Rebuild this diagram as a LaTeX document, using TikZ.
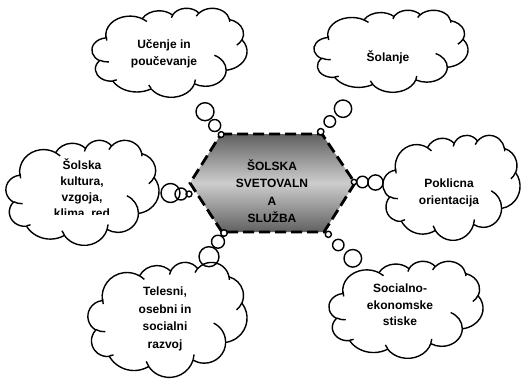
\documentclass[tikz,border=0pt]{standalone}
\usepackage{fontspec}
\setmainfont{Liberation Sans}
\definecolor{hexdark}{RGB}{96,96,96}
\definecolor{hexlight}{RGB}{205,205,205}
\newcommand\cldsetup[4]{\gdef\cldx{#1}\gdef\cldy{#2}\gdef\cldw{#3}\gdef\cldh{#4}}
\newcommand\cpt[2]{({\cldx+(#1)/432*\cldw},{\cldy+(#2)/432*\cldh})}
\newcommand\cldarc[4]{%
  \pgfextra{%
    \pgfmathparse{(#1)/432*\cldw}\xdef\cwr{\pgfmathresult}%
    \pgfmathparse{(#2)/432*\cldh}\xdef\chr{\pgfmathresult}%
    \pgfmathparse{atan2((#1)*sin(#3),(#2)*cos(#3))}\xdef\cta{\pgfmathresult}%
    \pgfmathparse{atan2((#1)*sin(#3+#4),(#2)*cos(#3+#4))}\xdef\ctb{\pgfmathresult}%
    \pgfmathparse{\cta+mod(\ctb-\cta+720,360)}\xdef\ctb{\pgfmathresult}%
  }%
  arc[start angle=\cta, end angle=\ctb, x radius=\cwr, y radius=\chr]%
}
\newcommand\cloudoutline{%
  \cpt{39.00}{143.70}
  \cldarc{67.53}{91.90}{-190.48748}{123.78053}
  \cldarc{53.33}{72.67}{-144.10238}{89.94523}
  \cldarc{43.65}{59.45}{-145.80792}{99.72302}
  \cldarc{48.57}{65.95}{-130.98607}{117.24173}
  \cldarc{53.33}{72.73}{-78.70888}{109.02692}
  \cldarc{67.75}{92.20}{-46.26725}{130.269}
  \cldarc{57.85}{78.67}{0.62502}{114.03333}
  \cldarc{67.52}{92.15}{22.4516}{115.17255}
  \cldarc{77.20}{105.43}{66.24263}{75.71102}
  \cldarc{43.60}{59.18}{-274.94208}{146.73557}
  \cldarc{43.45}{59.45}{-246.8285}{152.51885}
  -- cycle}
\newcommand\cloudmarks{%
  \cpt{46.93}{261.77} \cldarc{43.45}{59.45}{86.742}{26.4295}
  \cpt{69.28}{348.99} \cldarc{43.60}{59.18}{73.61047}{11.44747}
  \cpt{164.78}{390.90} \cldarc{67.52}{92.15}{137.62415}{14.0811}
  \cpt{288.27}{347.51} \cldarc{67.52}{92.15}{6.45327}{15.99835}
  \cpt{341.29}{229.54} \cldarc{57.85}{78.67}{-70.29235}{70.91737}
  \cpt{417.98}{153.54} \cldarc{53.33}{72.73}{30.31803}{27.7515}
  \cpt{383.24}{54.26} \cldarc{48.57}{65.95}{-13.74433}{14.8589}
  \cpt{290.78}{39.52} \cldarc{48.57}{65.95}{-149.18145}{18.19537}
  \cpt{221.41}{47.20} \cldarc{43.65}{59.45}{-163.49427}{17.68635}
  \cpt{140.00}{51.92} \cldarc{67.53}{91.90}{-66.70695}{12.31935}
  \cpt{41.27}{157.89} \cldarc{67.53}{91.90}{163.73658}{16.69708}
}
% cloud: x y w h, bubbles (x/y/r list)
\newcommand\drawcloud[5]{%
  \cldsetup{#1}{#2}{#3}{#4}%
  \fill[white] \cloudoutline;
  \foreach \bx/\by/\br in {#5} {\fill[white] (\bx,\by) circle[radius=\br];}
  \draw[cloudline] \cloudoutline;
  \draw[cloudline] \cloudmarks;
  \foreach \bx/\by/\br in {#5} {\draw[cloudline] (\bx,\by) circle[radius=\br];}
}
\begin{document}
\begin{tikzpicture}[x=1pt,y=-1pt,
  cloudline/.style={line width=1.4pt, black, line join=round},
  lbl/.style={font=\bfseries\fontsize{12}{17.5}\selectfont, align=center, inner sep=0pt, text=black},
  hexborder/.style={line width=2.8pt, dash pattern=on 11pt off 5pt, black}]
\useasboundingbox (0,0) rectangle (521,383);
% hexagon
\coordinate (h1) at (221,134);
\coordinate (h2) at (322,134);
\coordinate (h3) at (355,183);
\coordinate (h4) at (324,232);
\coordinate (h5) at (222,232);
\coordinate (h6) at (190,183);
\shade[top color=hexdark,bottom color=hexdark,middle color=hexlight] (h1) -- (h2) -- (h3) -- (h4) -- (h5) -- (h6) -- cycle;
\draw[hexborder] (h1) -- (h2) -- (h3) -- (h4) -- (h5) -- (h6) -- cycle;
\node[lbl] (hex) at (272,191) {ŠOLSKA\\SVETOVALN\\A\\SLUŽBA};
% clouds
\drawcloud{92}{8}{155}{89}{205/111.7/9,214.7/125.5/6,221.2/134.5/2.9}
\drawcloud{314}{10}{154}{82}{343/108.7/8.7,329.8/121.5/5.8,320.7/131.7/3.2}
\drawcloud{6}{140}{153}{105}{170.5/193/9.5,181/194/6,189/194/3}
\drawcloud{383}{135}{137}{105}{375.5/182.5/7.6,362.5/182/5.8,354/182/2.7}
\drawcloud{88}{262}{159}{115}{209/256.7/10,218/241.7/6.5,224/233/3.3}
\drawcloud{329}{261}{154}{97}{352.8/258.3/8.8,338.3/245/5.7,328.3/234.3/3.1}
% texts
\node[lbl] (t1) at (164,54) {Učenje in\\poučevanje};
\node[lbl] (t2) at (388,57) {Šolanje};
\begin{scope}
  \clip (0,130) rectangle (200,214.5);
  \node[lbl, font=\bfseries\fontsize{12}{16}\selectfont] (t3) at (82,189.5) {Šolska\\kultura,\\vzgoja,\\klima, red};
\end{scope}
\node[lbl] (t4) at (449,193) {Poklicna\\orientacija};
\node[lbl] (t5) at (165,319) {Telesni,\\osebni in\\socialni\\razvoj};
\node[lbl, font=\bfseries\fontsize{12}{16.5}\selectfont] (t6) at (400,305) {Socialno-\\ekonomske\\stiske};
\end{tikzpicture}
\end{document}
